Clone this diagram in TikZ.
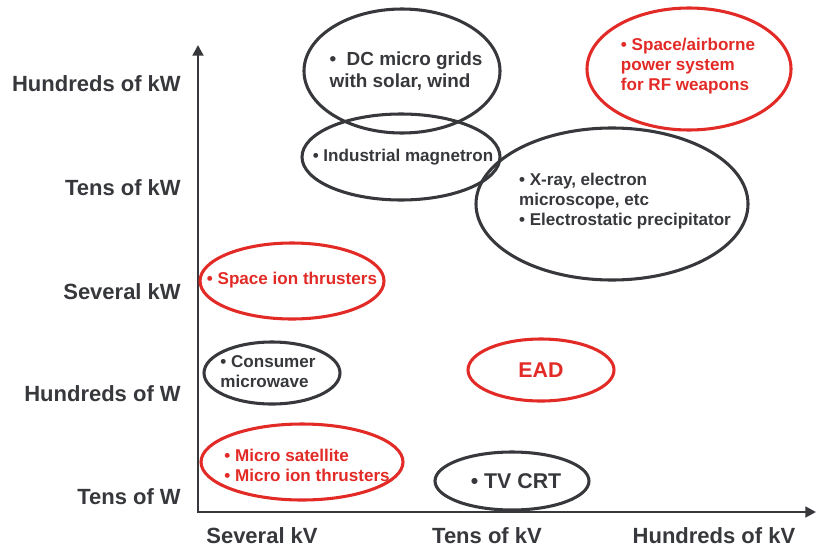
\documentclass[tikz,border=0pt]{standalone}
\usepackage{fontspec}
\setmainfont{Liberation Sans}
\usetikzlibrary{arrows.meta}
\definecolor{ink}{RGB}{55,56,60}
\definecolor{brick}{RGB}{226,42,38}
\tikzset{
  axis/.style={draw=ink,line width=2.2pt,
    {Triangle[length=8pt,width=8pt]}-{Triangle[length=8pt,width=8pt]}},
  ring/.style={draw=#1,line width=2.3pt},
  ring/.default=ink,
  level/.style={text=ink,font=\fontsize{16.5}{19}\selectfont\bfseries,inner sep=0pt},
  item/.style={text=#1,font=\fontsize{12.8}{15}\selectfont\bfseries,align=left,inner sep=0pt},
  item/.default=ink,
  big item/.style={text=#1,font=\fontsize{16}{19}\selectfont\bfseries,inner sep=0pt},
  big item/.default=ink,
}
\begin{document}
\begin{tikzpicture}[x=0.75pt,y=-0.75pt]
  \useasboundingbox (0,0) rectangle (817,550);
  % axes
  \coordinate (origin) at (198,512);
  \coordinate (ytop) at (198,45);
  \coordinate (xend) at (816,512);
  \draw[axis] (ytop) -- (origin) -- (xend);
  % power levels
  \node[level,anchor=east] (hkw) at (181,84) {Hundreds of kW};
  \node[level,anchor=east] (tkw) at (181,188) {Tens of kW};
  \node[level,anchor=east] (skw) at (181,292) {Several kW};
  \node[level,anchor=east] (hw) at (181,394) {Hundreds of W};
  \node[level,anchor=east] (tw) at (181,497) {Tens of W};
  % voltage levels
  \node[level] (skv) at (262,536) {Several kV};
  \node[level] (tkv) at (487,536) {Tens of kV};
  \node[level] (hkv) at (714,536) {Hundreds of kV};
  % applications
  \draw[ring] (402,71) ellipse [x radius=98,y radius=62];
  \node[item,font=\fontsize{14.2}{16.5}\selectfont\bfseries] (grid) at (406,71)
    {\textbullet\ \ DC micro grids\\with solar, wind};
  \draw[ring] (401,157) ellipse [x radius=99,y radius=43];
  \node[item] (magnetron) at (403,157) {\textbullet\ Industrial magnetron};
  \draw[ring] (612,204) ellipse [x radius=136,y radius=76];
  \node[item] (xray) at (625,201)
    {\textbullet\ X-ray, electron\\microscope, etc\\\textbullet\ Electrostatic precipitator};
  \draw[ring=brick] (689,69) ellipse [x radius=102,y radius=61];
  \node[item=brick] (weapons) at (688,66)
    {\textbullet\ Space/airborne\\power system\\for RF weapons};
  \draw[ring=brick] (292,281) ellipse [x radius=92,y radius=38];
  \node[item=brick] (ionthr) at (292,280) {\textbullet\ Space ion thrusters};
  \draw[ring] (272,373) ellipse [x radius=68,y radius=31];
  \node[item] (microwave) at (268,372) {\textbullet\ Consumer\\microwave};
  \draw[ring=brick] (541,370) ellipse [x radius=73,y radius=31];
  \node[big item=brick] (ead) at (541,370) {EAD};
  \draw[ring=brick] (302,462) ellipse [x radius=101,y radius=38];
  \node[item=brick] (microsat) at (307,465)
    {\textbullet\ Micro satellite\\\textbullet\ Micro ion thrusters};
  \draw[ring] (512,481) ellipse [x radius=77,y radius=29];
  \node[big item] (crt) at (516,481) {\textbullet\ TV CRT};
\end{tikzpicture}
\end{document}
